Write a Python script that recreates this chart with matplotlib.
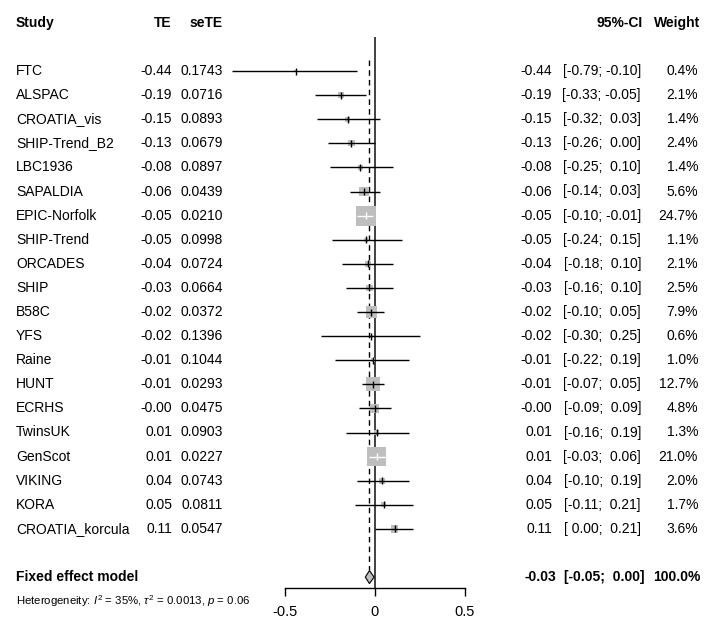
import numpy as np
import matplotlib
matplotlib.use("Agg")
import matplotlib.pyplot as plt
from matplotlib.transforms import blended_transform_factory

plt.rcParams['font.family'] = ['Liberation Sans', 'DejaVu Sans']
plt.rcParams['mathtext.fontset'] = 'custom'
plt.rcParams['mathtext.rm'] = 'Liberation Sans'
plt.rcParams['mathtext.it'] = 'Liberation Sans:italic'

# study level data
studies = ["FTC", "ALSPAC", "CROATIA_vis", "SHIP-Trend_B2", "LBC1936", "SAPALDIA",
           "EPIC-Norfolk", "SHIP-Trend", "ORCADES", "SHIP", "B58C", "YFS", "Raine",
           "HUNT", "ECRHS", "TwinsUK", "GenScot", "VIKING", "KORA", "CROATIA_korcula"]
te = [-0.44, -0.19, -0.15, -0.13, -0.08, -0.06, -0.05, -0.05, -0.04, -0.03,
      -0.02, -0.02, -0.01, -0.01, -0.0, 0.01, 0.01, 0.04, 0.05, 0.11]
sete = [0.1743, 0.0716, 0.0893, 0.0679, 0.0897, 0.0439, 0.0210, 0.0998, 0.0724, 0.0664,
        0.0372, 0.1396, 0.1044, 0.0293, 0.0475, 0.0903, 0.0227, 0.0743, 0.0811, 0.0547]
lower = [-0.79, -0.33, -0.32, -0.26, -0.25, -0.14, -0.10, -0.24, -0.18, -0.16,
         -0.10, -0.30, -0.22, -0.07, -0.09, -0.16, -0.03, -0.10, -0.11, 0.00]
upper = [-0.10, -0.05, 0.03, 0.00, 0.10, 0.03, -0.01, 0.15, 0.10, 0.10,
         0.05, 0.25, 0.19, 0.05, 0.09, 0.19, 0.06, 0.19, 0.21, 0.21]
weight = [0.4, 2.1, 1.4, 2.4, 1.4, 5.6, 24.7, 1.1, 2.1, 2.5,
          7.9, 0.6, 1.0, 12.7, 4.8, 1.3, 21.0, 2.0, 1.7, 3.6]

# fixed effect summary
fe_label = "Fixed effect model"
fe_te = -0.03
fe_lower = -0.053
fe_upper = -0.004
fe_text_ci = (-0.05, 0.00)
fe_weight = 100.0
het_text = r"Heterogeneity: $I^2$ = 35%, $\tau^2$ = 0.0013, $p$ = 0.06"

W, H = 712, 634
fig = plt.figure(figsize=(W / 100, H / 100), dpi=100)

# forest panel: x from -0.5 (px 284.7) to 0.5 (px 465), rows 24.1 px apart from px 71
row_px = 24.1
y0 = 71
ax_top, ax_bot = 37, 588
ax = fig.add_axes([284.7 / W, (H - ax_bot) / H, (465 - 284.7) / W, (ax_bot - ax_top) / H])
ax.set_xlim(-0.5, 0.5)
ax.set_ylim((ax_bot - y0) / row_px, (ax_top - y0) / row_px)
ax.patch.set_visible(False)
for s in ["top", "right", "left"]:
    ax.spines[s].set_visible(False)
ax.spines["bottom"].set_linewidth(1.0)
ax.set_yticks([])
ax.set_xticks([-0.5, 0, 0.5])
ax.set_xticklabels(["-0.5", "0", "0.5"])
ax.tick_params(axis="x", direction="out", length=5.8, width=1.0, pad=6.5, labelsize=10.5)

rows = np.arange(len(studies))
px_x = 180.0  # px per unit effect
side_px = 4.02 * np.sqrt(weight)

# reference lines
ax.axvline(0, color="#333333", lw=1.3, zorder=1)
ax.plot([fe_te, fe_te], [-0.46, 20.7], color="black", lw=1.0, ls=(0, (4, 3)), zorder=1)

# boxes
ax.scatter(te, rows, s=(side_px * 0.72) ** 2, marker="s", color="#bebebe",
           linewidths=0, zorder=2)

# confidence intervals and estimate ticks
tick_h = 3.5 / row_px
for i in rows:
    half = side_px[i] / 2 / px_x
    inside = (lower[i] >= te[i] - half) and (upper[i] <= te[i] + half)
    col = "white" if inside else "black"
    ax.plot([lower[i], upper[i]], [i, i], color=col, lw=1.0, zorder=3,
            solid_capstyle="butt", clip_on=False)
    ax.plot([te[i], te[i]], [i - tick_h, i + tick_h], color=col, lw=1.0, zorder=3,
            solid_capstyle="butt")

# diamond
fe_row = 21
dh = 6.5 / row_px
ax.fill([fe_lower, fe_te, fe_upper, fe_te], [fe_row, fe_row - dh, fe_row, fe_row + dh],
        facecolor="#bebebe", edgecolor="black", lw=0.8, zorder=3, clip_on=False)

# text columns
tr = blended_transform_factory(fig.transFigure, ax.transData)
fs = 10
hdr_row = (23 - y0) / row_px

def put(px, row, s, ha, bold=False, size=fs):
    ax.text(px / W, row, s, transform=tr, ha=ha, va="center", fontsize=size,
            fontweight="bold" if bold else "normal", clip_on=False)

put(16, hdr_row, "Study", "left", True)
put(172, hdr_row, "TE", "right", True)
put(223, hdr_row, "seTE", "right", True)
put(643, hdr_row, "95%-CI", "right", True)
put(700, hdr_row, "Weight", "right", True)

for i in rows:
    put(16, i, studies[i], "left")
    put(172, i, f"{te[i]:.2f}", "right")
    put(223, i, f"{sete[i]:.4f}", "right")
    put(552, i, f"{te[i]:.2f}", "right")
    put(641, i, f"[{lower[i]:5.2f}; {upper[i]:5.2f}]", "right")
    put(698, i, f"{weight[i]:.1f}%", "right")

put(16, fe_row, fe_label, "left", True)
put(556, fe_row, f"{fe_te:.2f}", "right", True)
put(644, fe_row, f"[{fe_text_ci[0]:5.2f}; {fe_text_ci[1]:5.2f}]", "right", True)
put(700, fe_row, f"{fe_weight:.1f}%", "right", True)

ax.text(16 / W, 22, het_text, transform=tr, ha="left", va="center", fontsize=8.2,
        clip_on=False)

fig.savefig("out.png", dpi=100)
